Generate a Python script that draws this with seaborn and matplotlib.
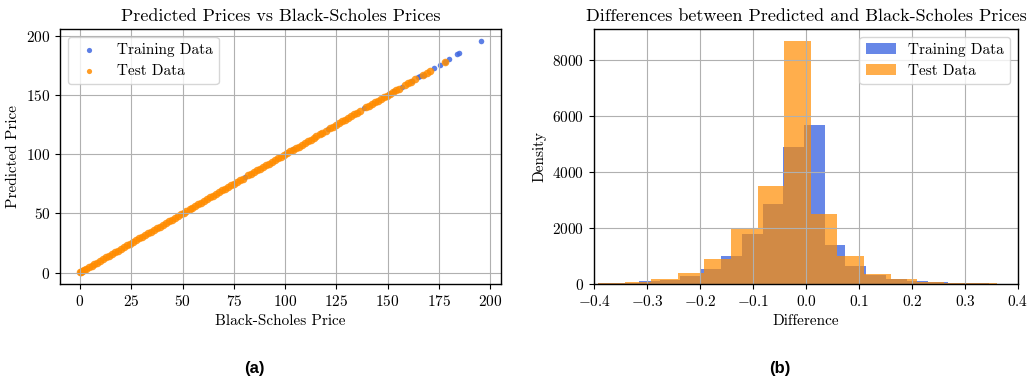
import numpy as np
import pandas as pd
import matplotlib
matplotlib.use("Agg")
import matplotlib.pyplot as plt
import seaborn as sns

# ---------------- data ----------------
# scatter: Black-Scholes price vs predicted price
train_bs = [80.5, 104.0, 121.0, 138.5, 150.5, 153.0, 157.0, 162.0,
            165.0, 166.0, 167.5, 172.5, 175.5, 178.0, 180.0, 184.0, 185.0, 195.5]
train_pred = [80.8, 104.2, 121.3, 138.8, 150.6, 153.2, 157.2, 162.1,
              165.3, 166.1, 167.2, 172.8, 175.3, 178.2, 180.2, 184.6, 185.4, 196.2]

test_bs = [0.0, 0.5, 1.2, 2.0, 3.1, 4.3, 5.6, 7.0, 8.4, 9.9, 11.3, 12.8, 14.2, 15.7,
           17.1, 18.6, 20.0, 21.5, 22.9, 24.4, 25.8, 27.3, 28.7, 30.2, 31.6, 33.1,
           34.5, 36.0, 37.4, 38.9, 40.3, 41.8, 43.2, 44.7, 46.1, 47.6, 49.0, 50.5,
           51.9, 53.4, 54.8, 56.3, 57.7, 59.2, 60.6, 62.1, 63.5, 65.0, 66.4, 67.9,
           69.3, 70.8, 72.2, 73.7, 75.1, 76.6, 78.0, 79.5, 82.0, 83.4, 84.9, 86.3,
           87.8, 89.2, 90.7, 92.1, 93.6, 95.0, 96.5, 97.9, 99.4, 100.8, 102.3, 103.7,
           105.2, 106.6, 108.1, 109.5, 111.0, 112.4, 113.9, 115.3, 116.8, 118.2,
           119.7, 122.0, 123.4, 124.9, 126.3, 127.8, 129.2, 130.7, 132.1, 133.6,
           135.0, 136.5, 139.5, 141.0, 142.4, 143.9, 145.3, 146.8, 148.2, 149.7,
           151.1, 152.6, 154.0, 155.5, 158.5, 160.0, 161.4, 163.5, 167.0, 169.0,
           170.5, 178.0]
test_pred = [0.1, 0.6, 1.3, 2.1, 3.1, 4.4, 5.7, 7.1, 8.4, 10.0, 11.4, 12.8, 14.3, 15.7,
             17.2, 18.6, 20.1, 21.5, 23.0, 24.4, 25.9, 27.3, 28.8, 30.2, 31.7, 33.1,
             34.6, 36.0, 37.5, 38.9, 40.4, 41.8, 43.3, 44.7, 46.2, 47.6, 49.1, 50.5,
             52.0, 53.4, 54.9, 56.3, 57.8, 59.2, 60.7, 62.1, 63.6, 65.0, 66.5, 67.9,
             69.4, 70.8, 72.3, 73.7, 75.2, 76.6, 78.1, 79.5, 82.1, 83.4, 85.0, 86.3,
             87.9, 89.2, 90.8, 92.1, 93.7, 95.0, 96.6, 97.9, 99.5, 100.8, 102.4, 103.7,
             105.3, 106.6, 108.2, 109.5, 111.1, 112.4, 114.0, 115.3, 116.9, 118.2,
             119.8, 122.1, 123.4, 125.0, 126.3, 127.9, 129.2, 130.8, 132.1, 133.7,
             135.0, 136.6, 139.6, 141.0, 142.5, 143.9, 145.4, 146.8, 148.3, 149.7,
             151.2, 152.6, 154.1, 155.5, 158.6, 160.1, 161.5, 163.6, 167.1, 169.1,
             170.6, 178.2]

# histogram of differences: bin edges and bar heights
train_edges = [-0.393, -0.3541, -0.3152, -0.2763, -0.2374, -0.1985, -0.1596, -0.1207,
               -0.0818, -0.0429, -0.004, 0.0349, 0.0738, 0.1127, 0.1516, 0.1905,
               0.2294, 0.2683, 0.3072, 0.3461, 0.385]
train_heights = [20, 40, 90, 150, 290, 525, 1000, 1770, 2870, 4890,
                 5670, 1400, 660, 320, 170, 100, 60, 35, 20, 10]

test_edges = [-0.3926, -0.3424, -0.2922, -0.242, -0.1918, -0.1416, -0.0914, -0.0412,
              0.009, 0.0592, 0.1094, 0.1596, 0.2098, 0.26, 0.3102, 0.3604, 0.4106]
test_heights = [25, 85, 190, 405, 885, 1960, 3520, 8680,
                2500, 990, 345, 165, 85, 50, 20, 8]

# ---------------- style ----------------
sns.set_style("ticks")
plt.rcParams["font.family"] = ["cmr10", "DejaVu Serif"]
plt.rcParams["mathtext.fontset"] = "cm"
plt.rcParams["axes.formatter.use_mathtext"] = True
plt.rcParams["axes.unicode_minus"] = True
plt.rcParams["axes.edgecolor"] = "black"
plt.rcParams["axes.linewidth"] = 1.0
plt.rcParams["xtick.color"] = "black"
plt.rcParams["ytick.color"] = "black"
plt.rcParams["text.color"] = "black"
plt.rcParams["axes.labelcolor"] = "black"
plt.rcParams["axes.axisbelow"] = "line"

BLUE = "royalblue"
ORANGE = "darkorange"

fig = plt.figure(figsize=(10.29, 3.79), dpi=100)
ax1 = fig.add_axes([0.0583, 0.2507, 0.4286, 0.6728])
ax2 = fig.add_axes([0.5773, 0.2507, 0.4120, 0.6728])

# ---- left: scatter ----
df_train = pd.DataFrame({"bs": train_bs, "pred": train_pred})
df_test = pd.DataFrame({"bs": test_bs, "pred": test_pred})
sns.scatterplot(data=df_train, x="bs", y="pred", ax=ax1, color=BLUE, s=16,
                linewidth=0, alpha=0.85, label="Training Data")
sns.scatterplot(data=df_test, x="bs", y="pred", ax=ax1, color=ORANGE, s=30,
                linewidth=0, alpha=0.85, label="Test Data")
ax1.set_title("Predicted Prices vs Black-Scholes Prices", fontsize=13)
ax1.set_xlabel("Black-Scholes Price", fontsize=11)
ax1.set_ylabel("Predicted Price", fontsize=11)
ax1.set_xticks([0, 25, 50, 75, 100, 125, 150, 175, 200])
ax1.set_yticks([0, 50, 100, 150, 200])
ax1.grid(True, color="#b0b0b0", linewidth=0.8)
ax1.tick_params(labelsize=11)
leg1 = ax1.legend(loc="upper left", fontsize=11, frameon=True)
for h in leg1.legend_handles:
    h.set_sizes([14])

# ---- right: histogram ----
train_centers = [(train_edges[i] + train_edges[i + 1]) / 2 for i in range(len(train_heights))]
test_centers = [(test_edges[i] + test_edges[i + 1]) / 2 for i in range(len(test_heights))]
sns.histplot(x=train_centers, weights=train_heights, bins=train_edges, ax=ax2,
             color=BLUE, alpha=0.8, linewidth=0, label="Training Data")
sns.histplot(x=test_centers, weights=test_heights, bins=test_edges, ax=ax2,
             color=ORANGE, alpha=0.7, linewidth=0, label="Test Data")
ax2.set_xlim(-0.4, 0.4)
ax2.set_title("Differences between Predicted and Black-Scholes Prices", fontsize=13)
ax2.set_xlabel("Difference", fontsize=11)
ax2.set_ylabel("Density", fontsize=11)
ax2.set_yticks([0, 2000, 4000, 6000, 8000])
ax2.grid(True, color="#b0b0b0", linewidth=0.8)
ax2.tick_params(labelsize=11)
ax2.legend(loc="upper right", fontsize=11, frameon=True)

for ax in (ax1, ax2):
    for sp in ax.spines.values():
        sp.set_visible(True)
        sp.set_color("black")

fig.text(0.247, 0.029, "(a)", ha="center", va="center", fontsize=12,
         fontweight="bold", family="Liberation Sans", color="black")
fig.text(0.758, 0.029, "(b)", ha="center", va="center", fontsize=12,
         fontweight="bold", family="Liberation Sans", color="black")

fig.savefig("out.png", dpi=100)
